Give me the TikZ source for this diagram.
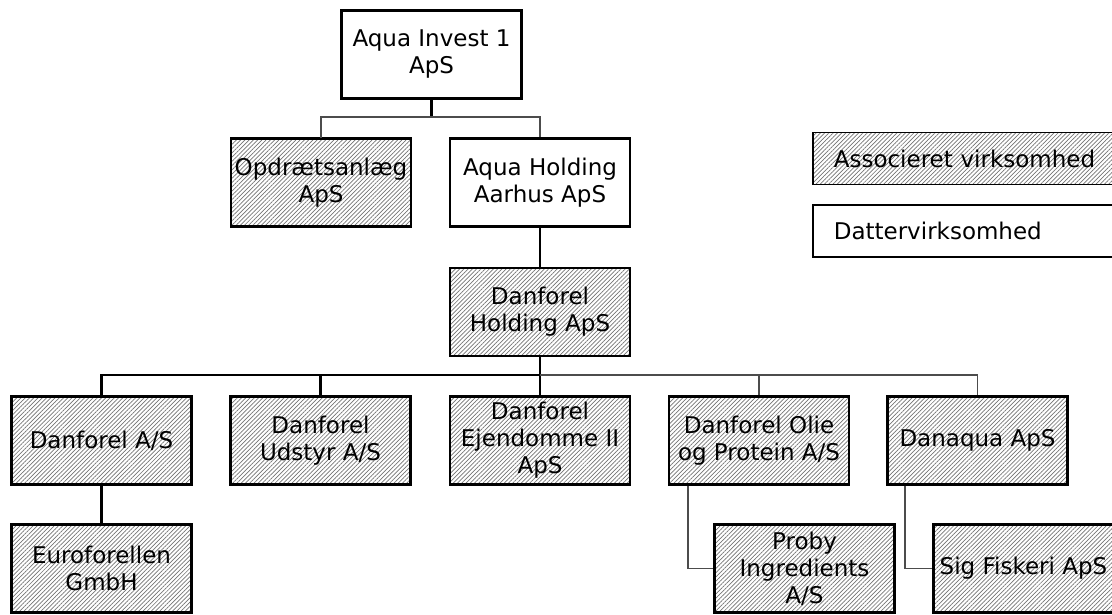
\documentclass[tikz,border=0pt]{standalone}
\usepackage{fontspec}
\setmainfont{DejaVu Sans}
\usepackage{tikz}
\usetikzlibrary{patterns.meta}
\tikzset{
  orgbox/.style = {rectangle, draw=black, line width=2.6pt, align=center,
    inner sep=0pt, minimum width=180pt, minimum height=88pt,
    font=\fontsize{23}{27}\selectfont},
  datter/.style = {orgbox, fill=white},% datterselskab, hvid
  assoc/.style = {orgbox, pattern={Lines[angle=45,distance=3pt,line width=0.7pt]},
    pattern color=black!55},% associeret, skraveret
  legbox/.style = {rectangle, draw=black, line width=1.6pt, anchor=west,
    text width=268pt, align=left, inner xsep=21pt, minimum height=52pt,
    font=\fontsize{23}{27}\selectfont},% forklaring
  link/.style = {line width=2.4pt, black},
  weaklink/.style = {line width=1.6pt, black!70}
}

\begin{document}
\begin{tikzpicture}[x=1pt,y=-1pt]
\useasboundingbox (0,0) rectangle (1112,614);
% top
\node [datter] (invest) at (431.5,54.5) {Aqua Invest 1\\ApS};
\node [assoc] (opdraet) at (321,182.5) {Opdrætsanlæg\\ApS};
\node [datter] (aquaholding) at (540,182.5) {Aqua Holding\\Aarhus ApS};
\node [assoc] (dfholding) at (540,312) {Danforel\\Holding ApS};
% row 2
\node [assoc] (dfas) at (101.5,440.5) {Danforel A/S};
\node [assoc] (udstyr) at (320.5,440.5) {Danforel\\Udstyr A/S};
\node [assoc] (ejendom) at (540,440.5) {Danforel\\Ejendomme II\\ApS};
\node [assoc] (olie) at (759,440.5) {Danforel Olie\\og Protein A/S};
\node [assoc] (danaqua) at (977.5,440.5) {Danaqua ApS};
% row 3
\node [assoc] (eurofor) at (101.5,568.5) {Euroforellen\\GmbH};
\node [assoc] (proby) at (804.5,568.5) {Proby\\Ingredients\\A/S};
\node [assoc] (sigfisk) at (1023.5,568.5) {Sig Fiskeri ApS};
% legend
\node [legbox, pattern={Lines[angle=45,distance=3pt,line width=0.7pt]},
  pattern color=black!55] (legassoc) at (812,158.5) {Associeret virksomhed};
\node [legbox, fill=white] (legdatter) at (812,231) {Dattervirksomhed};
% connectors
\coordinate (bus1) at (431.5,117);
\coordinate (bus2) at (540,375);
\draw [link] (invest) -- (bus1);
\draw [weaklink] (opdraet) |- (bus1) -| (aquaholding);
\draw [link] (aquaholding) -- (dfholding);
\draw [link] (dfholding) -- (bus2);
\draw [link] (dfas) |- (bus2);
\draw [link] (udstyr) -- (udstyr |- bus2);
\draw [link] (ejendom) -- (bus2);
\draw [weaklink] (bus2) -| (olie);
\draw [weaklink] (bus2) -| (danaqua);
\draw [link] (dfas) -- (eurofor);
\draw [weaklink] ([xshift=20pt]olie.south west) |- (proby);
\draw [weaklink] ([xshift=19pt]danaqua.south west) |- (sigfisk);
\end{tikzpicture}
\end{document}
